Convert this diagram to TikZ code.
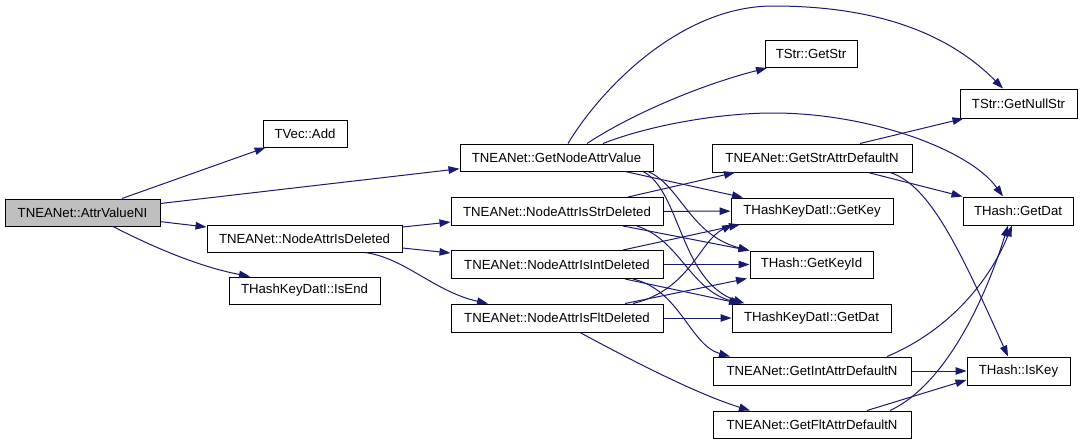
\documentclass[tikz,border=0pt]{standalone}
\usepackage{fontspec}
\setmainfont{Liberation Sans}
\usetikzlibrary{arrows.meta}
\definecolor{edgeblue}{HTML}{191970}
\definecolor{rootgray}{HTML}{BFBFBF}
\begin{document}
\begin{tikzpicture}[x=1pt,y=-1pt,
  box/.style={draw=black,line width=1pt,fill=white,inner sep=0pt,minimum height=27pt,
    font=\fontsize{13.2}{15}\selectfont},
  e/.style={draw=edgeblue,line width=1pt,-{Triangle[length=11pt,width=7.5pt]}}]
\useasboundingbox (0,0) rectangle (1083,445);
% nodes
\node[box,fill=rootgray,minimum width=155pt] (avn) at (82.5,212.5) {TNEANet::AttrValueNI};
\node[box,minimum width=84pt] (vadd) at (305,133.5) {TVec::Add};
\node[box,minimum width=193pt] (gnav) at (556.5,157.5) {TNEANet::GetNodeAttrValue};
\node[box,minimum width=195pt] (nad) at (304.5,238.5) {TNEANet::NodeAttrIsDeleted};
\node[box,minimum width=151pt] (isend) at (304.5,290.5) {THashKeyDatI::IsEnd};
\node[box,minimum width=92pt] (getstr) at (811,54) {TStr::GetStr};
\node[box,minimum width=117pt,minimum height=29pt] (nullstr) at (1018.5,103.5) {TStr::GetNullStr};
\node[box,minimum width=200pt,minimum height=28pt] (gsadn) at (812,158) {TNEANet::GetStrAttrDefaultN};
\node[box,minimum width=212pt,minimum height=28pt] (isstr) at (557,211.5) {TNEANet::NodeAttrIsStrDeleted};
\node[box,minimum width=212pt,minimum height=28pt] (isint) at (557,264.5) {TNEANet::NodeAttrIsIntDeleted};
\node[box,minimum width=212pt,minimum height=28pt] (isflt) at (557,318) {TNEANet::NodeAttrIsFltDeleted};
\node[box,minimum width=162pt,minimum height=26pt] (getkey) at (812,211) {THashKeyDatI::GetKey};
\node[box,minimum width=123pt] (getkeyid) at (811.5,264.5) {THash::GetKeyId};
\node[box,minimum width=159pt,minimum height=28pt] (hkdgetdat) at (811.5,318) {THashKeyDatI::GetDat};
\node[box,minimum width=198pt,minimum height=28pt] (giadn) at (812,371) {TNEANet::GetIntAttrDefaultN};
\node[box,minimum width=198pt] (gfadn) at (812,424.5) {TNEANet::GetFltAttrDefaultN};
\node[box,minimum width=110pt,minimum height=28pt] (hgetdat) at (1018,211) {THash::GetDat};
\node[box,minimum width=103pt,minimum height=28pt] (iskey) at (1018.5,371) {THash::IsKey};
% edges from AttrValueNI
\draw[e] (avn) -- (vadd);
\draw[e] (avn) -- (gnav);
\draw[e] (avn) -- (nad);
\draw[e] ([xshift=30.5pt]avn.south) .. controls (145,243) and (195,266) .. ([xshift=-54.5pt]isend.north);
% edges from NodeAttrIsDeleted
\draw[e] ([yshift=11.5pt]nad.east) -- ([yshift=-10.5pt]isstr.west);
\draw[e] ([yshift=-9.5pt]nad.east) -- ([yshift=11.5pt]isint.west);
\draw[e] ([xshift=60.5pt]nad.south) .. controls (405,258) and (435,292) .. ([xshift=-69pt]isflt.north);
% edges from GetNodeAttrValue
\draw[e] ([xshift=11.5pt]gnav.north) .. controls (600,90) and (680,6) .. (773,6)
   .. controls (880,6) and (950,35) .. ([xshift=-15.5pt]nullstr.north);
\draw[e] ([xshift=30.5pt]gnav.north) .. controls (630,115) and (700,85) .. ([xshift=-44pt]getstr.south);
\draw[e] ([xshift=46.5pt]gnav.north) .. controls (650,125) and (720,113) .. (773,113)
   .. controls (870,113) and (970,150) .. ([xshift=-15pt]hgetdat.north);
\draw[e] ([xshift=68.5pt]gnav.south) -- ([xshift=-69pt]getkey.north);
\draw[e] ([xshift=91.5pt]gnav.south) .. controls (680,185) and (690,235) .. (getkeyid.north west);
\draw[e] ([xshift=86.5pt]gnav.south) .. controls (680,190) and (680,280) .. ([xshift=-67pt]hkdgetdat.north);
% edges from NodeAttrIsStrDeleted
\draw[e] ([xshift=71pt]isstr.north) -- ([xshift=-77pt]gsadn.south);
\draw[e] (isstr) -- (getkey);
\draw[e] ([xshift=66pt]isstr.south) -- (getkeyid.north west);
\draw[e] ([xshift=80pt]isstr.south) .. controls (680,240) and (690,290) .. ([xshift=-70pt]hkdgetdat.north);
% edges from NodeAttrIsIntDeleted
\draw[e] ([xshift=66pt]isint.north) -- ([xshift=-72pt]getkey.south);
\draw[e] (isint) -- (getkeyid);
\draw[e] ([xshift=68pt]isint.south) -- ([xshift=-71.5pt]hkdgetdat.north);
\draw[e] ([xshift=76pt]isint.south) .. controls (680,290) and (690,345) .. ([xshift=-82pt]giadn.north);
% edges from NodeAttrIsFltDeleted
\draw[e] ([xshift=76pt]isflt.north) .. controls (690,290) and (700,240) .. ([xshift=-79pt]getkey.south);
\draw[e] ([xshift=68pt]isflt.north) -- ([xshift=-64.5pt]getkeyid.south);
\draw[e] (isflt) -- (hkdgetdat);
\draw[e] ([xshift=23pt]isflt.south) .. controls (640,365) and (700,395) .. ([xshift=-62pt]gfadn.north);
% edges from the default getters
\draw[e] ([xshift=48pt]gsadn.north) -- ([xshift=-55pt]nullstr.south);
\draw[e] ([xshift=56pt]gsadn.south) -- (hgetdat.north west);
\draw[e] ([xshift=78pt]gsadn.south) .. controls (930,185) and (960,250) .. ([xshift=-10.5pt]iskey.north);
\draw[e] ([xshift=75pt]giadn.north) .. controls (950,330) and (990,280) .. ([xshift=-6pt]hgetdat.south);
\draw[e] (giadn) -- (iskey);
\draw[e] ([xshift=78pt]gfadn.north) .. controls (945,385) and (985,300) .. ([xshift=-10pt]hgetdat.south);
\draw[e] ([xshift=55pt]gfadn.north) -- ([yshift=-9pt]iskey.west);
\end{tikzpicture}
\end{document}
